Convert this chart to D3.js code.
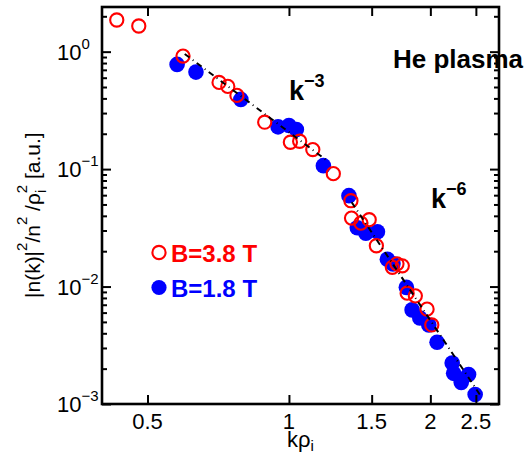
<!DOCTYPE html>
<html>
<head>
<meta charset="utf-8">
<script src="https://cdn.jsdelivr.net/npm/d3@7"></script>
<style>
  html, body { margin: 0; padding: 0; background: #fff; }
  svg { display: block; font-family: "Liberation Sans", Arial, Helvetica, sans-serif; }
</style>
</head>
<body>
<svg id="chart" width="529" height="454"></svg>
<script>
// ---- data ----
const kRed = [0.43, 0.479, 0.595, 0.710, 0.741, 0.775, 0.888, 1.007, 1.054, 1.124, 1.243, 1.355, 1.359, 1.423, 1.482, 1.535, 1.660, 1.698, 1.743, 1.785, 1.858, 1.968, 2.014];
const sRed = [1.86, 1.654, 0.917, 0.547, 0.506, 0.424, 0.2508, 0.1693, 0.1727, 0.1467, 0.0915, 0.0538, 0.0383, 0.0347, 0.0371, 0.02225, 0.01458, 0.01562, 0.01502, 0.00878, 0.00833, 0.00642, 0.00471];
const kBlue = [0.578, 0.634, 0.790, 0.948, 1.0, 1.037, 1.184, 1.342, 1.398, 1.458, 1.543, 1.620, 1.665, 1.778, 1.829, 1.899, 1.985, 2.067, 2.226, 2.242, 2.327, 2.412, 2.491];
const sBlue = [0.779, 0.670, 0.392, 0.229, 0.235, 0.217, 0.107, 0.0594, 0.0317, 0.0285, 0.0293, 0.01706, 0.0156, 0.00984, 0.00633, 0.0054, 0.00471, 0.00336, 0.002234, 0.001824, 0.001523, 0.001782, 0.001203];
// power-law guide lines (end points)
const fitK3 = [0.6, 1.2];
const fitS3 = [0.956, 0.1196];
const fitK6 = [1.36, 2.55];
const fitS6 = [0.0522, 0.0012];
// ticks
const xTicks = [0.5, 1, 1.5, 2, 2.5];
const xTickLabels = ["0.5", "1", "1.5", "2", "2.5"];
const yTicks = [1e-3, 1e-2, 1e-1, 1e0];
const yTickExp = ["\u22123", "\u22122", "\u22121", "0"];
const legendLabels = ["B=3.8 T", "B=1.8 T"];
const colRed = "#ff0000", colBlue = "#0000ff";

// ---- layout ----
const L = 102, R = 499, T = 7, B = 404;
const svg = d3.select("#chart");
const x = d3.scaleLog().domain([0.4, 2.8]).range([L, R]);
const y = d3.scaleLog().domain([1e-3, 2.4]).range([B, T]);

// minor y ticks
const yMinor = [];
for (let e = -3; e <= 0; e++) for (let m = 2; m <= 9; m++) { const v = m * Math.pow(10, e); if (v < 2.4) yMinor.push(v); }

const gPts = svg.append("g");
// blue filled
gPts.selectAll("circle.b").data(kBlue.map((k, i) => [k, sBlue[i]])).enter()
  .append("circle").attr("cx", d => x(d[0])).attr("cy", d => y(d[1])).attr("r", 7.8)
  .attr("fill", colBlue);
// red open
gPts.selectAll("circle.r").data(kRed.map((k, i) => [k, sRed[i]])).enter()
  .append("circle").attr("cx", d => x(d[0])).attr("cy", d => y(d[1])).attr("r", 6.6)
  .attr("fill", "none").attr("stroke", colRed).attr("stroke-width", 2.1);

// guide lines
const line = d3.line().x(d => x(d[0])).y(d => y(d[1]));
[[fitK3, fitS3], [fitK6, fitS6]].forEach(([ks, ss]) => {
  svg.append("path").datum(ks.map((k, i) => [k, ss[i]])).attr("d", line)
    .attr("fill", "none").attr("stroke", "#000").attr("stroke-width", 2)
    .attr("stroke-dasharray", "6,4,1,4");
});

// axes (box with inward ticks)
const axB = d3.axisBottom(x).tickValues(xTicks).tickSize(-9).tickFormat("");
const axT = d3.axisTop(x).tickValues(xTicks).tickSize(-9).tickFormat("");
const axLmaj = d3.axisLeft(y).tickValues(yTicks).tickSize(-9).tickFormat("");
const axLmin = d3.axisLeft(y).tickValues(yMinor).tickSize(-5).tickFormat("");
const axRmaj = d3.axisRight(y).tickValues(yTicks).tickSize(-9).tickFormat("");
const axRmin = d3.axisRight(y).tickValues(yMinor).tickSize(-5).tickFormat("");
function styleAxis(g) {
  g.selectAll(".domain").remove();
  g.selectAll(".tick line").attr("stroke", "#000").attr("stroke-width", 2);
}
svg.append("g").attr("transform", `translate(0,${B})`).call(axB).call(styleAxis);
svg.append("g").attr("transform", `translate(0,${T})`).call(axT).call(styleAxis);
svg.append("g").attr("transform", `translate(${L},0)`).call(axLmaj).call(styleAxis);
svg.append("g").attr("transform", `translate(${L},0)`).call(axLmin).call(styleAxis);
svg.append("g").attr("transform", `translate(${R},0)`).call(axRmaj).call(styleAxis);
svg.append("g").attr("transform", `translate(${R},0)`).call(axRmin).call(styleAxis);
svg.append("rect").attr("x", L).attr("y", T).attr("width", R - L).attr("height", B - T)
  .attr("fill", "none").attr("stroke", "#000").attr("stroke-width", 2.6);

// x tick labels
svg.append("g").selectAll("text").data(xTicks).enter().append("text")
  .attr("x", d => x(d)).attr("y", 429).attr("text-anchor", "middle")
  .attr("font-size", 22).attr("fill", "#000")
  .text((d, i) => xTickLabels[i]);

// y tick labels: 10^e, left aligned
yTicks.forEach((v, i) => {
  const t = svg.append("text").attr("x", 57).attr("y", y(v) + 8)
    .attr("font-size", 22).attr("fill", "#000");
  t.append("tspan").text("10");
  t.append("tspan").attr("font-size", 15).attr("dy", -11).text(yTickExp[i]);
});

// x label
const xl = svg.append("text").attr("x", 287).attr("y", 447).attr("font-size", 22).attr("fill", "#000");
xl.append("tspan").text("k\u03c1");
xl.append("tspan").attr("font-size", 15).attr("dy", 4).text("i");

// y label (rotated)
const yl = svg.append("text").attr("transform", "translate(40,298) rotate(-90)")
  .attr("font-size", 21).attr("fill", "#000");
yl.append("tspan").text("|n(k)|");
yl.append("tspan").attr("font-size", 15).attr("dy", -13).text("2");
yl.append("tspan").attr("dy", 13).text("/n");
yl.append("tspan").attr("font-size", 15).attr("dy", -13).text("2");
yl.append("tspan").attr("dy", 13).text(" /\u03c1");
yl.append("tspan").attr("font-size", 15).attr("dy", 6).text("i");
yl.append("tspan").attr("font-size", 15).attr("dx", -3.5).attr("dy", -19).text("2");
yl.append("tspan").attr("dy", 13).text(" [a.u.]");

// annotations
svg.append("text").attr("x", 393).attr("y", 67.5).attr("font-size", 26).attr("font-weight", "bold")
  .attr("fill", "#000").text("He plasma");
const k3 = svg.append("text").attr("x", 289).attr("y", 100).attr("font-size", 27).attr("font-weight", "bold").attr("fill", "#000");
k3.append("tspan").text("k");
k3.append("tspan").attr("font-size", 18).attr("dy", -13).text("\u22123");
const k6 = svg.append("text").attr("x", 431).attr("y", 208).attr("font-size", 27).attr("font-weight", "bold").attr("fill", "#000");
k6.append("tspan").text("k");
k6.append("tspan").attr("font-size", 18).attr("dy", -13).text("\u22126");

// legend
const legY = [252.5, 287.5];
svg.append("circle").attr("cx", 159).attr("cy", legY[0]).attr("r", 6.6)
  .attr("fill", "none").attr("stroke", colRed).attr("stroke-width", 2.1);
svg.append("circle").attr("cx", 159).attr("cy", legY[1]).attr("r", 7.6).attr("fill", colBlue);
[colRed, colBlue].forEach((c, i) => {
  svg.append("text").attr("x", 171).attr("y", legY[i] + 9).attr("font-size", 24)
    .attr("font-weight", "bold").attr("fill", c).text(legendLabels[i]);
});
</script>
</body>
</html>
